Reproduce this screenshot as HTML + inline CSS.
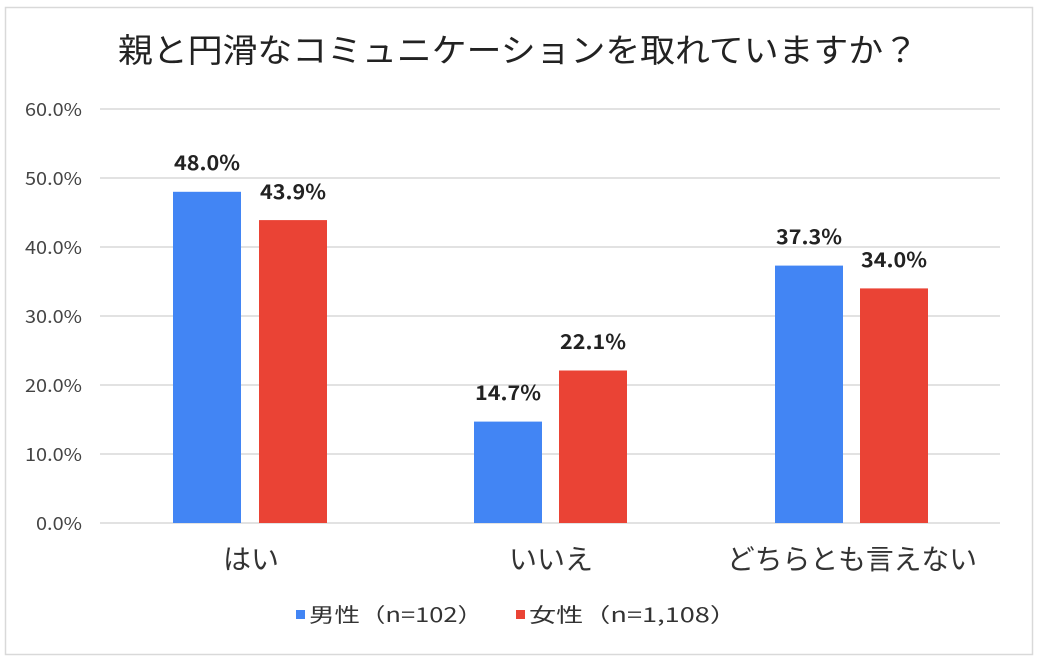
<!DOCTYPE html>
<html><head><meta charset="utf-8"><style>
html,body{margin:0;padding:0;background:#fff;}
svg{display:block;font-family:"Liberation Sans","Noto Sans CJK JP",sans-serif;}
</style></head><body>
<svg width="1043" height="662" viewBox="0 0 1043 662">
<rect x="5.5" y="7.5" width="1027" height="647" fill="#fff" stroke="#d9d9d9" stroke-width="1.5"/>
<text x="518" y="62" font-size="33" text-anchor="middle" fill="#222" font-family="Noto Sans CJK JP, sans-serif" textLength="800" lengthAdjust="spacingAndGlyphs">親と円滑なコミュニケーションを取れていますか？</text>
<g stroke="#d9d9d9" stroke-width="1.5">
<line x1="100" y1="109" x2="1000" y2="109"/>
<line x1="100" y1="178" x2="1000" y2="178"/>
<line x1="100" y1="247" x2="1000" y2="247"/>
<line x1="100" y1="316" x2="1000" y2="316"/>
<line x1="100" y1="385" x2="1000" y2="385"/>
<line x1="100" y1="454" x2="1000" y2="454"/>
<line x1="100" y1="523" x2="1000" y2="523"/>
</g>
<g font-size="18" fill="#444" font-family="Noto Sans CJK JP, sans-serif">
<text x="25" y="116" textLength="57" lengthAdjust="spacingAndGlyphs">60.0%</text>
<text x="25" y="185" textLength="57" lengthAdjust="spacingAndGlyphs">50.0%</text>
<text x="25" y="254" textLength="57" lengthAdjust="spacingAndGlyphs">40.0%</text>
<text x="25" y="323" textLength="57" lengthAdjust="spacingAndGlyphs">30.0%</text>
<text x="25" y="392" textLength="57" lengthAdjust="spacingAndGlyphs">20.0%</text>
<text x="25" y="461" textLength="57" lengthAdjust="spacingAndGlyphs">10.0%</text>
<text x="36" y="530" textLength="46" lengthAdjust="spacingAndGlyphs">0.0%</text>
</g>
<g fill="#4285f4">
<rect x="173" y="191.8" width="68" height="331.2"/>
<rect x="474" y="421.6" width="68" height="101.4"/>
<rect x="775" y="265.6" width="68" height="257.4"/>
</g>
<g fill="#ea4335">
<rect x="259" y="220.1" width="68" height="302.9"/>
<rect x="559" y="370.5" width="68" height="152.5"/>
<rect x="860" y="288.4" width="68" height="234.6"/>
</g>
<g font-size="20" font-weight="bold" fill="#222" text-anchor="middle" font-family="Noto Sans CJK JP, sans-serif">
<text x="207" y="170" textLength="66" lengthAdjust="spacingAndGlyphs">48.0%</text>
<text x="293" y="199" textLength="66" lengthAdjust="spacingAndGlyphs">43.9%</text>
<text x="508" y="400" textLength="66" lengthAdjust="spacingAndGlyphs">14.7%</text>
<text x="593" y="349" textLength="66" lengthAdjust="spacingAndGlyphs">22.1%</text>
<text x="809" y="244" textLength="66" lengthAdjust="spacingAndGlyphs">37.3%</text>
<text x="894" y="267" textLength="66" lengthAdjust="spacingAndGlyphs">34.0%</text>
</g>
<g font-size="28" fill="#333" text-anchor="middle" font-family="Noto Sans CJK JP, sans-serif">
<text x="251" y="569">はい</text>
<text x="551" y="569">いいえ</text>
<text x="852" y="569" textLength="250" lengthAdjust="spacingAndGlyphs">どちらとも言えない</text>
</g>
<rect x="296" y="610" width="9" height="9" fill="#4285f4"/>
<text x="309" y="622" font-size="20" fill="#333" font-family="Noto Sans CJK JP, sans-serif" textLength="174" lengthAdjust="spacingAndGlyphs">男性（n=102）</text>
<rect x="516" y="610" width="9" height="9" fill="#ea4335"/>
<text x="529" y="622" font-size="20" fill="#333" font-family="Noto Sans CJK JP, sans-serif" textLength="208" lengthAdjust="spacingAndGlyphs">女性（n=1,108）</text>
</svg>
</body></html>
